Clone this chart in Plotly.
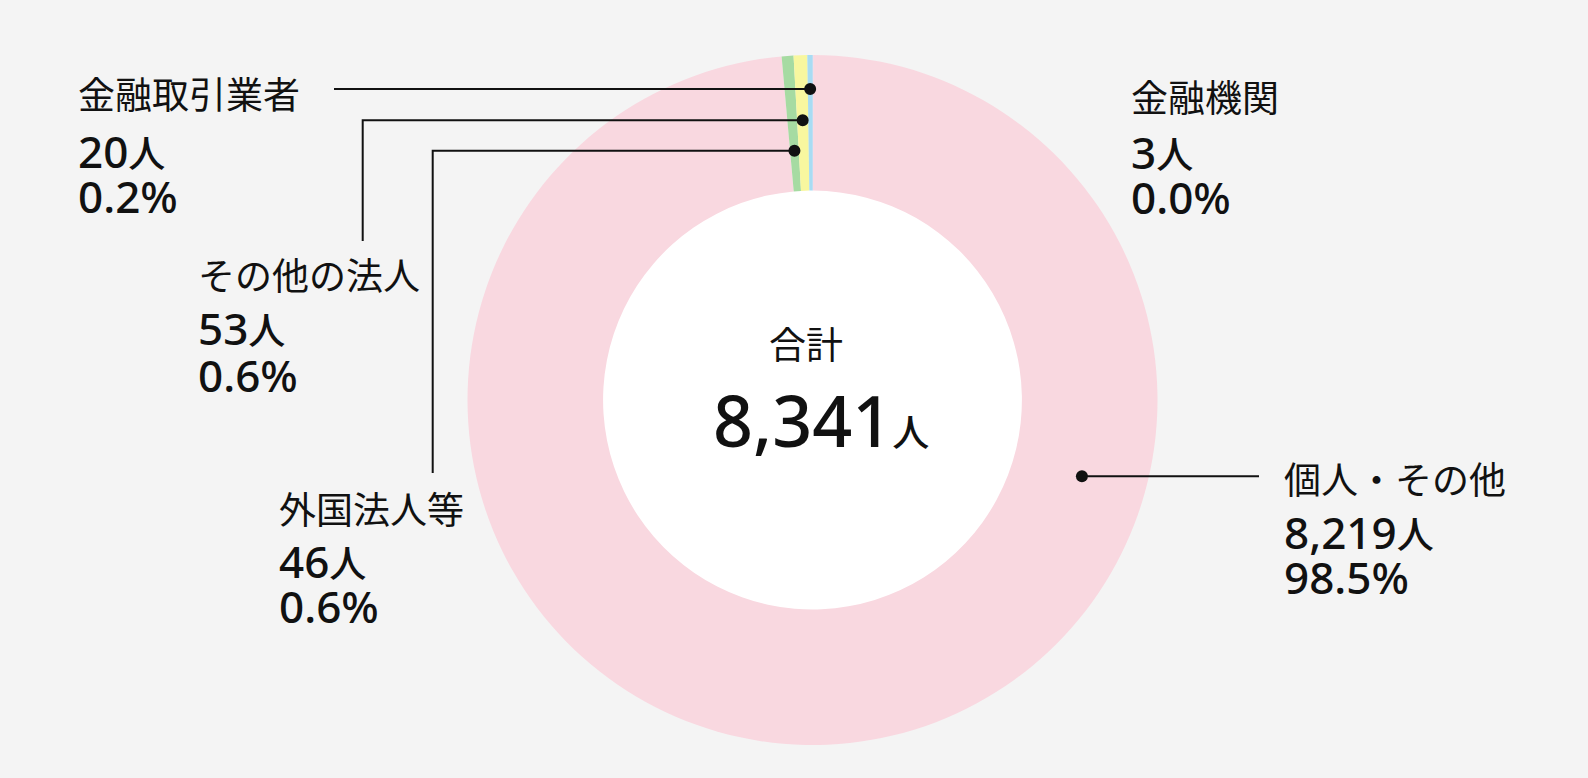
import math
import plotly.graph_objects as go

# ---- data ----
categories = ["金融機関", "個人・その他", "外国法人等", "その他の法人", "金融取引業者"]
values = [3, 8219, 46, 53, 20]
colors = ["#b9c8ec", "#f9d8e0", "#a6dba2", "#f8f79f", "#a8dcf3"]
unit = "人"
total_label = "合計"

W, H = 1588, 778
CX, CY, R = 812.5, 400.0, 345.0
HOLE = 0.607

total = sum(values)
pct = [v / total * 100 for v in values]

fig = go.Figure()

# white centre disk (below the donut)
fig.add_shape(type="circle", xref="x", yref="y", layer="below",
              x0=CX - R * HOLE - 1, x1=CX + R * HOLE + 1,
              y0=CY - R * HOLE - 1, y1=CY + R * HOLE + 1,
              fillcolor="white", line=dict(width=0))

fig.add_trace(go.Pie(
    labels=categories, values=values, sort=False, direction="clockwise",
    rotation=0, hole=HOLE, marker=dict(colors=colors, line=dict(width=0)),
    textinfo="none", hoverinfo="label+value", showlegend=False,
    domain=dict(x=[(CX - R) / W, (CX + R) / W], y=[1 - (CY + R) / H, 1 - (CY - R) / H]),
))

# angles (clockwise from 12 o'clock) of slice midpoints
cum = 0
mid = {}
for c, v in zip(categories, values):
    mid[c] = (cum + v / 2) / total * 360
    cum += v


def pt(angle_deg, r):
    a = math.radians(angle_deg)
    return CX + r * math.sin(a), CY - r * math.cos(a)


dots = {
    "金融取引業者": pt(mid["金融取引業者"], 311),
    "その他の法人": pt(mid["その他の法人"], 280),
    "外国法人等": pt(mid["外国法人等"], 250),
    "個人・その他": pt(105.8, 280),
}

LINE = dict(color="#111111", width=2)
# leader lines
x, y = dots["金融取引業者"]
fig.add_shape(type="line", xref="x", yref="y", x0=334, y0=y, x1=x, y1=y, line=LINE, layer="above")
x, y = dots["その他の法人"]
fig.add_shape(type="path", xref="x", yref="y", path=f"M 362.7 241 L 362.7 {y} L {x} {y}", line=LINE, layer="above")
x, y = dots["外国法人等"]
fig.add_shape(type="path", xref="x", yref="y", path=f"M 432.7 473 L 432.7 {y} L {x} {y}", line=LINE, layer="above")
x, y = dots["個人・その他"]
fig.add_shape(type="line", xref="x", yref="y", x0=x, y0=y, x1=1259, y1=y, line=LINE, layer="above")

for c, (x, y) in dots.items():
    fig.add_shape(type="circle", xref="x", yref="y", x0=x - 6, x1=x + 6, y0=y - 6, y1=y + 6,
                  fillcolor="#111111", line=dict(width=0), layer="above")

FONT = "Noto Sans CJK JP"
NUMFONT = "Noto Sans, Noto Sans CJK JP"
TXT = "#111111"


def label_block(name, left, y_label, y_num, y_pct):
    i = categories.index(name)
    fig.add_annotation(x=left, y=y_label, xref="x", yref="y", text=name, showarrow=False,
                       xanchor="left", yanchor="middle",
                       font=dict(family=FONT, size=37, color=TXT))
    fig.add_annotation(x=left, y=y_num, xref="x", yref="y",
                       text=f"{values[i]:,}<span style='font-size:37px;font-family:Noto Sans CJK JP'>{unit}</span>",
                       showarrow=False, xanchor="left", yanchor="middle",
                       font=dict(family=NUMFONT, size=44, color=TXT, weight=500))
    fig.add_annotation(x=left, y=y_pct, xref="x", yref="y", text=f"{pct[i]:.1f}%",
                       showarrow=False, xanchor="left", yanchor="middle",
                       font=dict(family=NUMFONT, size=44, color=TXT, weight=500))


label_block("金融取引業者", 76, 93, 151, 196)
label_block("その他の法人", 196, 274, 328, 375)
label_block("外国法人等", 277, 508, 561, 606)
label_block("金融機関", 1129, 96, 152, 197)
label_block("個人・その他", 1282, 478, 532, 577)

fig.add_annotation(x=806, y=343, xref="x", yref="y", text=total_label, showarrow=False,
                   xanchor="center", yanchor="middle", font=dict(family=FONT, size=37, color=TXT))
fig.add_annotation(x=821, y=420, xref="x", yref="y",
                   text=f"{total:,}<span style='font-size:37px;font-family:Noto Sans CJK JP'>{unit}</span>",
                   showarrow=False, xanchor="center", yanchor="middle",
                   font=dict(family=NUMFONT, size=70, color=TXT, weight=500))

fig.update_layout(
    width=W, height=H, margin=dict(l=0, r=0, t=0, b=0),
    paper_bgcolor="#f4f4f4", plot_bgcolor="rgba(0,0,0,0)",
    xaxis=dict(range=[0, W], visible=False, fixedrange=True),
    yaxis=dict(range=[H, 0], visible=False, fixedrange=True),
)

fig.write_html("out.html", config=dict(displayModeBar=False),
               post_script="document.body.style.margin='0';document.body.style.overflow='hidden';")
